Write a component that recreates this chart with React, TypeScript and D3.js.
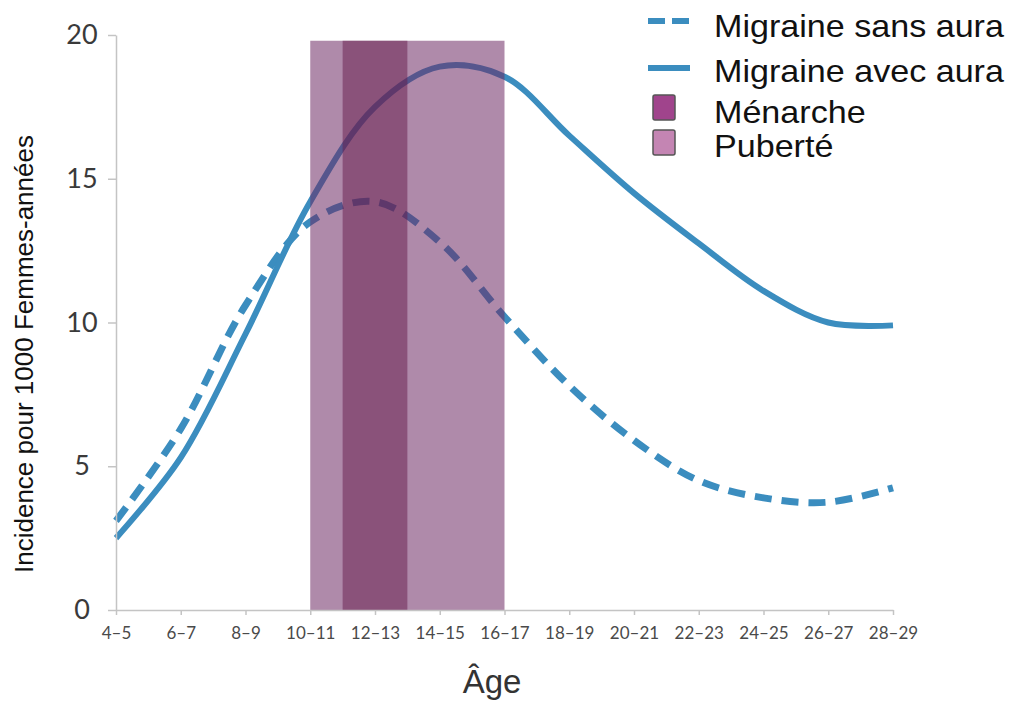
import { useEffect, useRef } from "react";
import * as d3 from "d3";

// tranches d'âge (borne basse) et libellés
const ages = [4, 6, 8, 10, 12, 14, 16, 18, 20, 22, 24, 26, 28];
const ageLabels = ["4–5", "6–7", "8–9", "10–11", "12–13", "14–15", "16–17", "18–19", "20–21", "22–23", "24–25", "26–27", "28–29"];

// incidence pour 1000 femmes-années
const avecAura = [2.5, 5.3, 9.6, 14.2, 17.5, 18.9, 18.55, 16.5, 14.5, 12.75, 11.1, 10.0, 9.9];
const sansAura = [3.1, 6.3, 10.6, 13.5, 14.2, 12.8, 10.2, 7.8, 5.9, 4.5, 3.9, 3.75, 4.25];

const yTicks = [0, 5, 10, 15, 20];
const puberte = [10, 16];
const menarche = [11, 13];
const bandTop = 19.8;

const W = 1015;
const H = 702;
const BLUE = "#3b8dbf";

const App = () => {
  const svgRef = useRef<SVGSVGElement>(null);

  useEffect(() => {
    const svg = d3.select(svgRef.current);
    svg.selectAll("*").remove();

    const x = d3.scaleLinear().domain([4, 28]).range([116, 893]);
    const y = d3.scaleLinear().domain([0, 20]).range([610, 35]);

    const line = d3
      .line<number>()
      .curve(d3.curveCatmullRom.alpha(0.5))
      .x((_, i) => x(ages[i]))
      .y((d) => y(d));

    // courbes (sous les bandes)
    svg
      .append("path")
      .attr("d", line(sansAura))
      .attr("fill", "none")
      .attr("stroke", BLUE)
      .attr("stroke-width", 7)
      .attr("stroke-dasharray", "17 10");

    svg
      .append("path")
      .attr("d", line(avecAura))
      .attr("fill", "none")
      .attr("stroke", BLUE)
      .attr("stroke-width", 6);

    // bandes puberté / ménarche
    svg
      .append("rect")
      .attr("x", x(puberte[0]))
      .attr("width", x(puberte[1]) - x(puberte[0]))
      .attr("y", y(bandTop))
      .attr("height", y(0) - y(bandTop))
      .attr("fill", "#6e2a64")
      .attr("opacity", 0.55);

    svg
      .append("rect")
      .attr("x", x(menarche[0]))
      .attr("width", x(menarche[1]) - x(menarche[0]))
      .attr("y", y(bandTop))
      .attr("height", y(0) - y(bandTop))
      .attr("fill", "#651a4a")
      .attr("opacity", 0.5);

    // axe Y
    const gy = svg
      .append("g")
      .attr("transform", `translate(${x(4)},0)`)
      .call(d3.axisLeft(y).tickValues(yTicks).tickSize(8).tickSizeOuter(0));
    gy.select(".domain").attr("stroke", "#c4c4c4").attr("stroke-width", 1.5);
    gy.selectAll(".tick line").attr("stroke", "#c4c4c4").attr("stroke-width", 1.5);
    gy.selectAll(".tick text")
      .attr("x", -34)
      .attr("text-anchor", "middle")
      .attr("fill", "#3a3a3a")
      .attr("font-family", "Lato, 'Open Sans', sans-serif")
      .attr("font-size", 27);

    // axe X
    const gx = svg
      .append("g")
      .attr("transform", `translate(0,${y(0)})`)
      .call(
        d3
          .axisBottom(x)
          .tickValues(ages)
          .tickFormat((_, i) => ageLabels[i])
          .tickSize(5)
          .tickSizeOuter(0)
          .tickPadding(12)
      );
    gx.select(".domain").attr("stroke", "#c4c4c4").attr("stroke-width", 1.5);
    gx.selectAll(".tick line").attr("stroke", "#c4c4c4").attr("stroke-width", 1.5);
    gx.selectAll(".tick text")
      .attr("fill", "#4a4a4a")
      .attr("font-family", "Lato, 'Open Sans', sans-serif")
      .attr("font-size", 17);

    // titres des axes
    svg
      .append("text")
      .attr("transform", "translate(33,354) rotate(-90)")
      .attr("text-anchor", "middle")
      .attr("font-family", "'Liberation Sans', Arial, sans-serif")
      .attr("font-size", 26)
      .attr("fill", "#111")
      .text("Incidence pour 1000 Femmes-années");

    svg
      .append("text")
      .attr("x", 492)
      .attr("y", 693)
      .attr("text-anchor", "middle")
      .attr("font-family", "'Liberation Sans', Arial, sans-serif")
      .attr("font-size", 33)
      .attr("fill", "#333")
      .text("Âge");

    // légende
    const leg = svg.append("g");
    leg.append("line").attr("x1", 648).attr("x2", 690).attr("y1", 21).attr("y2", 21)
      .attr("stroke", BLUE).attr("stroke-width", 6).attr("stroke-dasharray", "17 7");
    leg.append("line").attr("x1", 648).attr("x2", 690).attr("y1", 68).attr("y2", 68)
      .attr("stroke", BLUE).attr("stroke-width", 6);
    leg.append("rect").attr("x", 653).attr("y", 95).attr("width", 22).attr("height", 25).attr("rx", 2)
      .attr("fill", "#a0448c").attr("stroke", "#555").attr("stroke-width", 1.5);
    leg.append("rect").attr("x", 653).attr("y", 130).attr("width", 22).attr("height", 25).attr("rx", 2)
      .attr("fill", "#c485b3").attr("stroke", "#555").attr("stroke-width", 1.5);

    const legTexts = ["Migraine sans aura", "Migraine avec aura", "Ménarche", "Puberté"];
    const legY = [37, 82, 123, 157];
    const legText = leg
      .append("g")
      .attr("transform", "translate(714,0) scale(1.1,1)")
      .attr("font-family", "'Liberation Sans', Arial, sans-serif")
      .attr("font-size", 31)
      .attr("fill", "#111");
    legTexts.forEach((t, i) => {
      legText.append("text").attr("x", 0).attr("y", legY[i]).text(t);
    });
  }, []);

  return (
    <svg
      ref={svgRef}
      width={W}
      height={H}
      style={{ position: "absolute", left: 0, top: 0, background: "#fff" }}
    ></svg>
  );
};

export default App;
